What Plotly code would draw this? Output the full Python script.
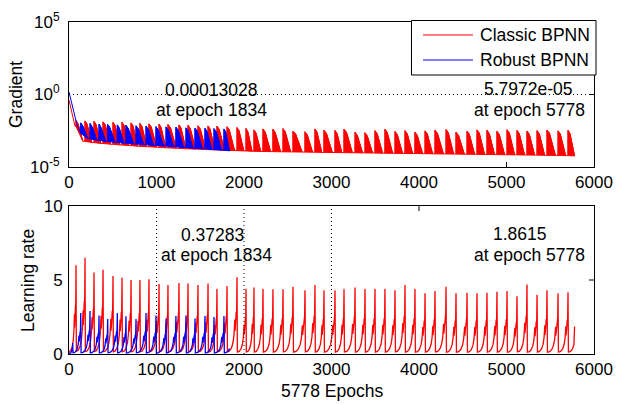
import plotly.graph_objects as go

# ---------------- data ----------------
# Classic BPNN: learning-rate peaks (epoch, value) and gradient teeth per cycle
red_peak_epoch = [80, 183, 286, 389, 503, 606, 709, 811, 914, 1029,
                  1131, 1257, 1360, 1474, 1589, 1691, 1806, 1920, 2023, 2114,
                  2217, 2331, 2446, 2560, 2697, 2811, 2914, 3040, 3143, 3269,
                  3383, 3497, 3611, 3726, 3840, 3954, 4069, 4183, 4309, 4423,
                  4549, 4663, 4777, 4891, 5006, 5120, 5234, 5349, 5463, 5589,
                  5703]
red_lr_peak = [6.0, 6.5, 5.5, 5.7, 5.27, 5.16, 5.0, 5.0, 5.05, 4.73,
               4.66, 4.8, 4.77, 4.66, 4.77, 4.4, 4.6, 5.18, 4.4, 4.5,
               4.4, 4.37, 4.37, 4.55, 4.3, 4.66, 4.3, 4.3, 4.37, 4.5,
               4.4, 4.4, 4.4, 4.3, 4.66, 4.4, 4.1, 4.25, 4.55, 4.1,
               4.14, 4.1, 4.14, 4.2, 4.25, 3.9, 4.7, 4.0, 4.3, 4.1,
               4.17]
red_grad_top = [0.016, 0.015, 0.014, 0.013, 0.012, 0.012, 0.011, 0.010, 0.0095, 0.009,
                0.0085, 0.008, 0.0075, 0.007, 0.0068, 0.0065, 0.006, 0.0052, 0.0045, 0.0036,
                0.0042, 0.0040, 0.0044, 0.0030, 0.0027, 0.0042, 0.0034, 0.0033, 0.0040, 0.0025,
                0.0023, 0.0032, 0.0040, 0.0028, 0.0032, 0.0025, 0.0031, 0.0034, 0.0038, 0.0025,
                0.0030, 0.0036, 0.0034, 0.0029, 0.0037, 0.0033, 0.0030, 0.0032, 0.0035, 0.0031,
                0.0034]
red_grad_base = [6.0e-4, 4.8e-4, 4.2e-4, 3.7e-4, 3.3e-4, 3.0e-4, 2.7e-4, 2.5e-4, 2.3e-4, 2.1e-4,
                 1.95e-4, 1.8e-4, 1.7e-4, 1.6e-4, 1.5e-4, 1.42e-4, 1.35e-4, 1.28e-4, 1.22e-4, 1.18e-4,
                 1.15e-4, 1.12e-4, 1.1e-4, 1.07e-4, 1.05e-4, 1.02e-4, 1.0e-4, 9.8e-5, 9.6e-5, 9.4e-5,
                 9.2e-5, 9.0e-5, 8.8e-5, 8.6e-5, 8.5e-5, 8.3e-5, 8.1e-5, 8.0e-5, 7.8e-5, 7.6e-5,
                 7.5e-5, 7.3e-5, 7.2e-5, 7.0e-5, 6.9e-5, 6.7e-5, 6.6e-5, 6.4e-5, 6.3e-5, 6.1e-5]
red_grad_start_epoch = [0, 30, 69]
red_grad_start = [0.42, 0.065, 0.0063]
red_final_epoch = 5778
red_final_grad = 5.7972e-05
red_final_lr = 1.8615

# Robust BPNN
blue_peak_epoch = [42, 134, 240, 343, 442, 552, 651, 766, 880, 994,
                   1109, 1222, 1337, 1440, 1554, 1657, 1771]
blue_lr_peak = [0.75, 2.77, 2.9, 2.6, 2.36, 2.77, 2.55, 2.36, 2.77, 2.6,
                2.4, 2.57, 2.6, 2.4, 2.57, 2.5, 2.57]
blue_grad_top = [0.011, 0.010, 0.009, 0.0085, 0.008, 0.0075, 0.007, 0.0065,
                 0.006, 0.0058, 0.0055, 0.005, 0.0048, 0.0046, 0.0044, 0.0042]
blue_grad_base = [9e-4, 7e-4, 5.8e-4, 5e-4, 4.4e-4, 3.9e-4, 3.5e-4, 3.1e-4,
                  2.8e-4, 2.5e-4, 2.2e-4, 2e-4, 1.8e-4, 1.6e-4, 1.45e-4]
blue_grad_start_epoch = [0, 20, 50, 88, 126]
blue_grad_start = [1.5, 0.4, 0.085, 0.01, 0.0021]
blue_final_epoch = 1834
blue_final_grad = 0.00013028
blue_final_lr = 0.37283

lr_start_epoch = 0
lr_start = 0.01

series_names = ["Classic BPNN", "Robust BPNN"]

# shape of one learning-rate cycle: (fraction of cycle, fraction of the coming peak)
LR_CYCLE_T = [0.04, 0.25, 0.45, 0.6, 0.7, 0.78, 0.8, 0.86, 0.92, 0.94, 0.97, 1.0]
LR_CYCLE_F = [0.03, 0.04, 0.08, 0.15, 0.25, 0.45, 0.3, 0.4, 0.55, 0.45, 0.6, 1.0]
TOOTH_FRAC = 0.76            # part of a cycle over which a gradient tooth decays
TOOTH_SHOULDER = (0.3, 0.6)  # (fraction of tooth length, fraction of tooth top)

RED = "#ff0000"
BLUE = "#0000ff"
FONT = "Liberation Sans, Arial, Helvetica, sans-serif"
FS = 17.5      # annotations and legend
FS_TICK = 17

W, H = 617, 404
ML, MR, MT, MB = 69, 23, 22, 50
PW, PH = W - ML - MR, H - MT - MB


def px(xp, yp):
    return (xp - ML) / PW, (H - MB - yp) / PH


def lr_curve(peaks, vals, final_epoch, final_val):
    xs, ys = [lr_start_epoch], [lr_start]
    prev = lr_start_epoch
    for p, v in zip(peaks, vals):
        span = p - prev
        for t, f in zip(LR_CYCLE_T, LR_CYCLE_F):
            xs.append(prev + t * span)
            ys.append(f * v)
        prev = p
    # unfinished last cycle up to the final epoch
    span = (peaks[-1] - peaks[0]) / (len(peaks) - 1)
    for t, f in zip(LR_CYCLE_T, LR_CYCLE_F):
        e = prev + t * span
        if e >= final_epoch:
            break
        xs.append(e)
        ys.append(f * vals[-1])
    xs.append(final_epoch)
    ys.append(final_val)
    return xs, ys


def grad_curve(start_e, start_v, peaks, tops, bases, final_epoch, final_val):
    bases = list(bases) + [final_val]
    xs, ys = list(start_e), list(start_v)
    tx, ty = [], []
    st, sf = TOOTH_SHOULDER
    for i, (p, top, base) in enumerate(zip(peaks, tops, bases)):
        pre = ys[-1]
        if i + 1 < len(peaks):
            end = p + TOOTH_FRAC * (peaks[i + 1] - p)
        else:
            end = final_epoch
        mid = p + st * (end - p)
        xs += [p, p, mid, end]
        ys += [pre, top, sf * top, base]
        tx += [p, p, mid, end, p, None]
        ty += [pre, top, sf * top, base, pre, None]
    return xs, ys, tx, ty


fig = go.Figure()

# gradient panel
rgx, rgy, rtx, rty = grad_curve(red_grad_start_epoch, red_grad_start, red_peak_epoch,
                                red_grad_top, red_grad_base, red_final_epoch, red_final_grad)
bgx, bgy, btx, bty = grad_curve(blue_grad_start_epoch, blue_grad_start, blue_peak_epoch[1:],
                                blue_grad_top, blue_grad_base, blue_final_epoch, blue_final_grad)
fig.add_trace(go.Scatter(x=rtx, y=rty, mode="lines", fill="toself", fillcolor=RED,
                         line=dict(color=RED, width=1), showlegend=False, hoverinfo="skip",
                         xaxis="x", yaxis="y"))
fig.add_trace(go.Scatter(x=rgx, y=rgy, mode="lines", line=dict(color=RED, width=1),
                         name=series_names[0], showlegend=False, xaxis="x", yaxis="y"))
fig.add_trace(go.Scatter(x=btx, y=bty, mode="lines", fill="toself", fillcolor=BLUE,
                         line=dict(color=BLUE, width=1), showlegend=False, hoverinfo="skip",
                         xaxis="x", yaxis="y"))
fig.add_trace(go.Scatter(x=bgx, y=bgy, mode="lines", line=dict(color=BLUE, width=1),
                         name=series_names[1], showlegend=False, xaxis="x", yaxis="y"))

# learning-rate panel
rlx, rly = lr_curve(red_peak_epoch, red_lr_peak, red_final_epoch, red_final_lr)
blx, bly = lr_curve(blue_peak_epoch, blue_lr_peak, blue_final_epoch, blue_final_lr)
fig.add_trace(go.Scatter(x=rlx, y=rly, mode="lines", name=series_names[0], showlegend=False,
                         line=dict(color=RED, width=1.3), xaxis="x2", yaxis="y2"))
fig.add_trace(go.Scatter(x=blx, y=bly, mode="lines", name=series_names[1], showlegend=False,
                         line=dict(color=BLUE, width=1.3), xaxis="x2", yaxis="y2"))

top_dom = [(H - MB - 167) / PH, 1.0]
bot_dom = [0.0, (H - MB - 206) / PH]

axis_common = dict(showline=True, mirror=True, linecolor="black", linewidth=1,
                   showgrid=False, zeroline=False, ticks="", automargin=False,
                   tickfont=dict(family=FONT, size=FS_TICK, color="black"))

xticks = [0, 1000, 2000, 3000, 4000, 5000, 6000]
fig.update_layout(
    width=W, height=H, autosize=False,
    margin=dict(l=ML, r=MR, t=MT, b=MB, pad=0, autoexpand=False),
    paper_bgcolor="white", plot_bgcolor="white",
    font=dict(family=FONT, size=FS, color="black"),
    showlegend=False,
    xaxis=dict(domain=[0, 1], anchor="y", range=[0, 6000], tickvals=xticks, **axis_common),
    yaxis=dict(domain=top_dom, anchor="x", type="log", range=[-5, 5],
               tickvals=[1e-5, 1, 1e5],
               ticktext=["10<sup>-5</sup>", "10<sup>0</sup>", "10<sup>5</sup>"],
               ticklabelstandoff=5, **axis_common),
    xaxis2=dict(domain=[0, 1], anchor="y2", range=[0, 6000], tickvals=xticks, **axis_common),
    yaxis2=dict(domain=bot_dom, anchor="x2", range=[0, 10], tickvals=[0, 5, 10],
                ticklabelstandoff=2, **axis_common),
)

dotted = dict(color="black", width=1, dash="1px,3px")
thin = dict(color="black", width=1)
shapes = [
    dict(type="line", xref="x", yref="y domain", x0=0, x1=6000, y0=0.5, y1=0.5, line=dotted),
    # visible inner ticks
    dict(type="line", xref="x", yref="y domain", x0=5000, x1=5000, y0=0, y1=5 / 145, line=thin),
    dict(type="line", xref="x domain", yref="y domain", x0=1, x1=1 - 5 / PW, y0=0.5, y1=0.5,
         line=thin),
    dict(type="line", xref="x2", yref="y2 domain", x0=4000, x1=4000, y0=1, y1=1 - 5 / 148,
         line=thin),
    dict(type="line", xref="x2 domain", yref="y2", x0=1, x1=1 - 5 / PW, y0=5, y1=5, line=thin),
]
for e in (1000, 2000, 3000):
    shapes.append(dict(type="line", xref="x2", yref="y2", x0=e, x1=e, y0=0, y1=10, line=dotted))

# legend box with line samples
bx0, by0 = px(411.5, 20.5)
bx1, by1 = px(596, 75)
shapes.append(dict(type="rect", xref="paper", yref="paper", x0=bx0, x1=bx1, y0=by0, y1=by1,
                   fillcolor="white", line=thin, layer="above"))
for color, yp in ((RED, 35), (BLUE, 60)):
    lx0, ly = px(423, yp)
    lx1, _ = px(473, yp)
    shapes.append(dict(type="line", xref="paper", yref="paper", x0=lx0, x1=lx1, y0=ly, y1=ly,
                       line=dict(color=color, width=1), layer="above"))
fig.update_layout(shapes=shapes)


def label(text, xp, yp, angle=0, anchor="center"):
    x, y = px(xp, yp)
    fig.add_annotation(text=text, x=x, y=y, xref="paper", yref="paper",
                       xanchor=anchor, yanchor="middle", showarrow=False, borderpad=0,
                       textangle=angle, font=dict(family=FONT, size=FS, color="black"))


label(series_names[0], 479, 35, anchor="left")
label(series_names[1], 479, 60, anchor="left")
label("0.00013028", 211, 90)
label("at epoch 1834", 211, 110)
label("5.7972e-05", 528, 89.5)
label("at epoch 5778", 529, 110)
label("0.37283", 212, 235)
label("at epoch 1834", 216, 255)
label("1.8615", 520, 234)
label("at epoch 5778", 529, 254.5)
label("Gradient", 16, 95, -90)
label("Learning rate", 28, 281, -90)
label("5778 Epochs", 332, 391)

fig.write_html("out.html")
